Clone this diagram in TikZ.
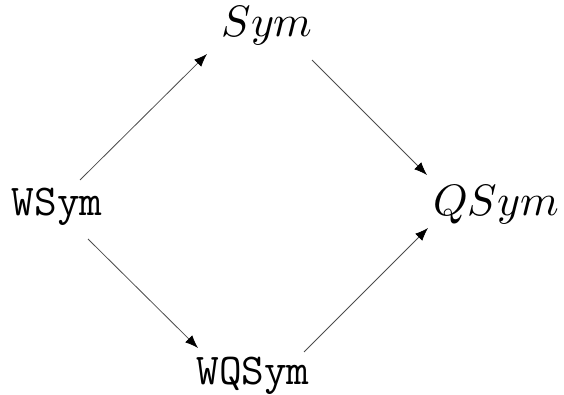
\documentclass[tikz,border=0pt]{standalone}
\usepackage{unicode-math}
\setmathfont{Latin Modern Math}
\usetikzlibrary{arrows.meta,calc}
\tikzset{
  lbl/.style={anchor=base, inner sep=0pt, font=\fontsize{44}{52}\selectfont},
  arr/.style={line width=0.8pt, draw=black!70, -{Latex[length=13pt,width=10pt,black]}}
}
\begin{document}
\begin{tikzpicture}[x=1pt,y=-1pt]
\useasboundingbox (0,0) rectangle (564,395);
\node[lbl] (s) at (267,37) {$Sym$};
\node[lbl] (w) at (57,215) {\texttt{WSym}};
\node[lbl] (q) at (496,215) {$QSym$};
\node[lbl] (m) at (253,384) {\texttt{WQSym}};
\draw[arr] ($(w.base)+(23,-35)$) -- ($(s.base)+(-60,17)$);
\draw[arr] ($(s.base)+(45,23)$) -- ($(q.base)+(-69,-40)$);
\draw[arr] ($(w.base)+(31,24)$) -- ($(m.base)+(-55,-36)$);
\draw[arr] ($(m.base)+(51,-32)$) -- ($(q.base)+(-68,13)$);
\end{tikzpicture}
\end{document}
